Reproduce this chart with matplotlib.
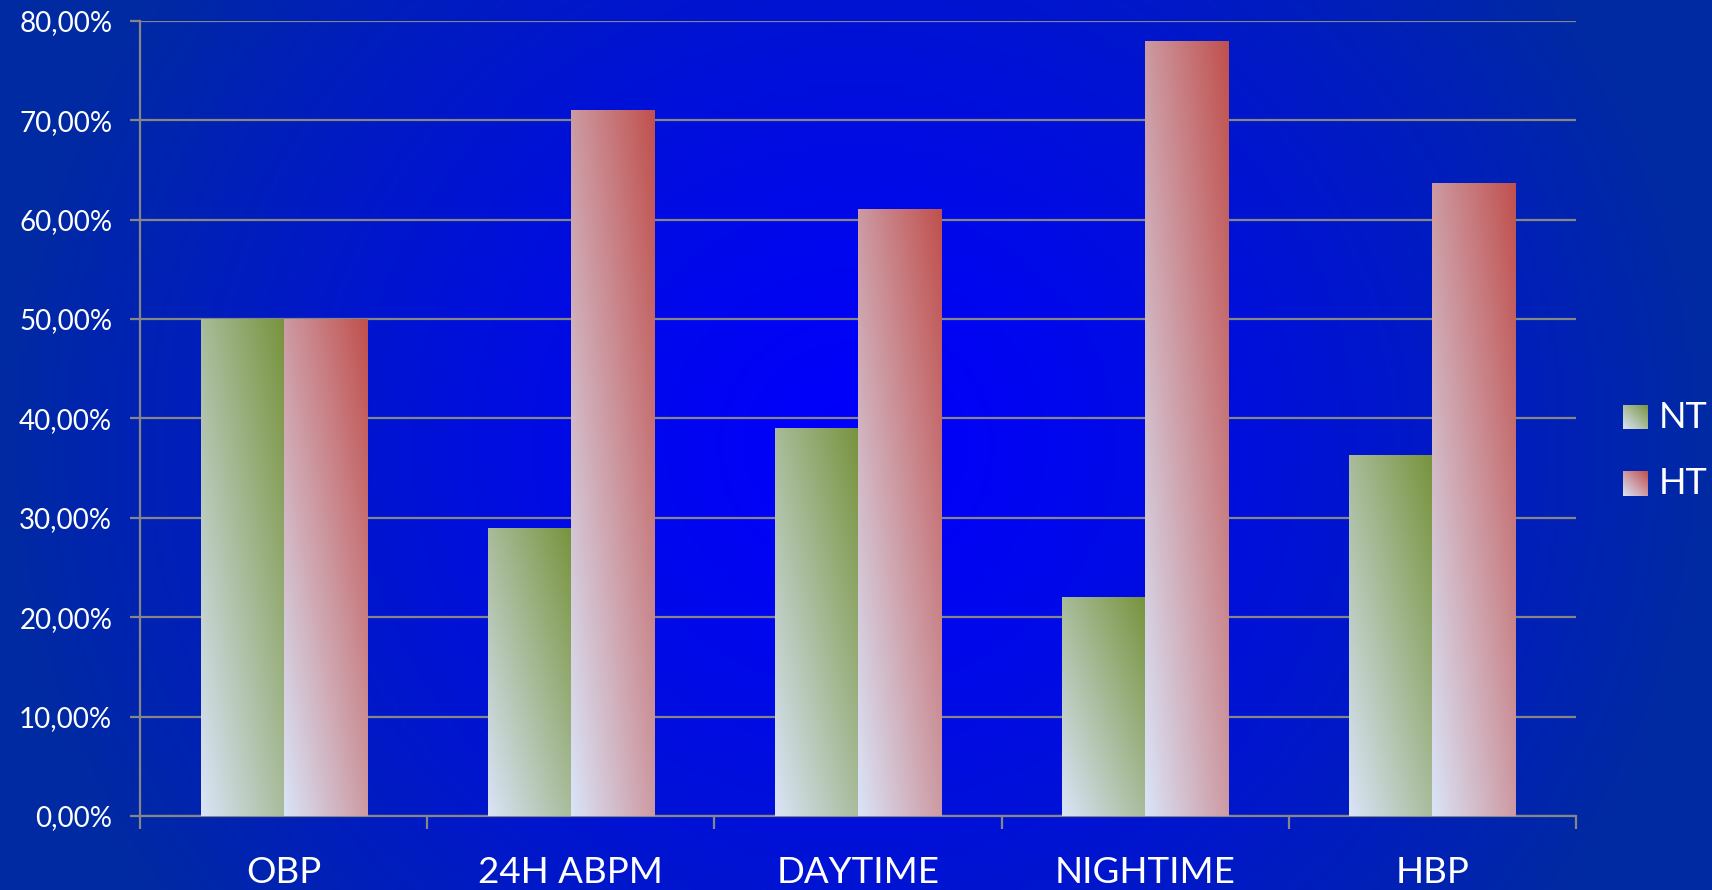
import matplotlib
matplotlib.use('Agg')
import matplotlib.pyplot as plt
import numpy as np
from matplotlib.ticker import FixedLocator, FuncFormatter

plt.rcParams['font.family'] = ['Lato', 'DejaVu Sans']

# Data
categories = ['OBP', '24H ABPM', 'DAYTIME', 'NIGHTIME', 'HBP']
nt_values = [50.0, 29.0, 39.0, 22.0, 36.3]
ht_values = [50.0, 71.0, 61.1, 78.0, 63.7]
series_names = ['NT', 'HT']
y_ticks = [0, 10, 20, 30, 40, 50, 60, 70, 80]

light = np.array([218, 228, 248]) / 255
series_dark = [np.array([0x77, 0x93, 0x3c]) / 255,
               np.array([0xc0, 0x50, 0x4d]) / 255]


def gradient_image(dark, n=200):
    # diagonal gradient: light in lower-left corner, dark in upper-right
    u = np.linspace(0, 1, n)
    uu, vv = np.meshgrid(u, u)
    t = ((uu + vv) / 2)[..., None]
    return light * (1 - t) + dark * t


fig = plt.figure(figsize=(17.12, 8.90), dpi=100)

# Background: bright blue centre fading to a darker navy at the edges
bg = fig.add_axes([0, 0, 1, 1], zorder=-10)
gx, gy = np.meshgrid(np.linspace(-1, 1, 400), np.linspace(-1, 1, 220))
r = np.clip(np.sqrt((gx / 1.0) ** 2 + (gy / 1.8) ** 2), 0, 1) ** 1.3
center = np.array([0, 0, 252]) / 255
edge = np.array([0, 42, 162]) / 255
bg.imshow(center * (1 - r[..., None]) + edge * r[..., None], aspect='auto',
          extent=(0, 1, 0, 1), origin='lower')
bg.axis('off')

ax = fig.add_axes([0.0818, 0.0831, 0.9206 - 0.0818, 0.9767 - 0.0831])
ax.set_facecolor('none')

x = np.arange(len(categories))
w = 0.289
for k, (vals, dark) in enumerate(zip([nt_values, ht_values], series_dark)):
    offs = (k - 0.5) * w
    bars = ax.bar(x + offs, vals, width=w, color='none', linewidth=0, zorder=3)
    img = gradient_image(dark)
    for b in bars:
        bx, by = b.get_x(), b.get_y()
        bw, bh = b.get_width(), b.get_height()
        im = ax.imshow(img, extent=(bx, bx + bw, by, by + bh), origin='lower',
                       aspect='auto', zorder=3, interpolation='bilinear')
        im.set_clip_path(b)

ax.set_xlim(-0.5, len(categories) - 0.5)
ax.set_ylim(0, 80)

grid_color = '#868686'
ax.yaxis.set_major_locator(FixedLocator(y_ticks))
ax.yaxis.set_major_formatter(FuncFormatter(lambda v, p: f'{v:.2f}%'.replace('.', ',')))
ax.grid(axis='y', color=grid_color, linewidth=1.6, zorder=1)
ax.set_axisbelow(True)

ax.set_xticks(x)
ax.set_xticklabels(categories)
ax.set_xticks(np.arange(-0.5, len(categories)), minor=True)
ax.tick_params(axis='x', which='major', length=0, pad=29, labelsize=26.5, labelcolor='white')
ax.tick_params(axis='x', which='minor', length=9, width=1.6, color=grid_color)
ax.tick_params(axis='y', length=7, width=1.6, color=grid_color, pad=13,
               labelsize=20, labelcolor='white')

for side in ['top', 'right']:
    ax.spines[side].set_visible(False)
for side in ['left', 'bottom']:
    ax.spines[side].set_color(grid_color)
    ax.spines[side].set_linewidth(1.6)

# Legend with gradient swatches
for k, (name, dark) in enumerate(zip(series_names, series_dark)):
    yc = 1 - (417 + k * 67) / 890
    sw = fig.add_axes([1623 / 1712, yc - 12.5 / 890, 25 / 1712, 25 / 890])
    sw.imshow(gradient_image(dark, 50), origin='lower', aspect='auto')
    sw.axis('off')
    fig.text(1659 / 1712, yc, name, color='white', fontsize=26, va='center', ha='left')

fig.savefig('out.png', dpi=100)
